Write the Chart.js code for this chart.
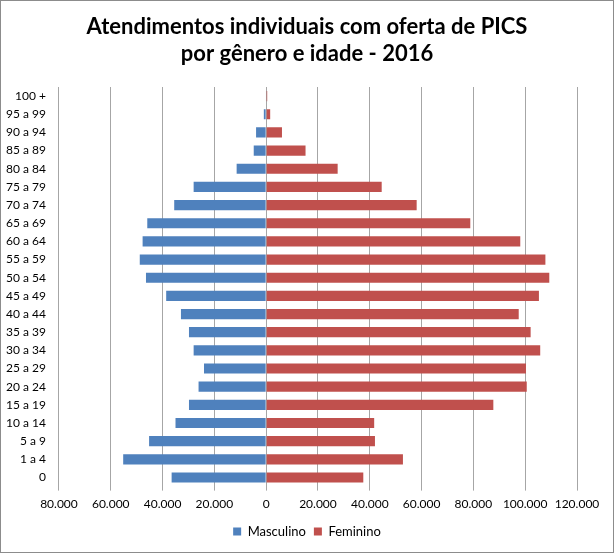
<!DOCTYPE html>
<html>
<head>
<meta charset="utf-8">
<script src="https://cdn.jsdelivr.net/npm/chart.js@4.4.0/dist/chart.umd.min.js"></script>
<style>
  body { margin: 0; background: #fff; }
  .box { width: 612px; height: 551px; border: 1px solid #8c8c8c; position: relative; }
  canvas { display: block; }
</style>
</head>
<body>
<div class="box"><canvas class="piramide" width="612" height="551"></canvas></div>
<script>
var faixas = ['0', '1 a 4', '5 a 9', '10 a 14', '15 a 19', '20 a 24', '25 a 29', '30 a 34', '35 a 39', '40 a 44', '45 a 49',
              '50 a 54', '55 a 59', '60 a 64', '65 a 69', '70 a 74', '75 a 79', '80 a 84', '85 a 89', '90 a 94', '95 a 99', '100 +'];
var masculino = [36500, 55200, 45200, 35000, 29800, 26100, 24000, 28000, 29800, 32900, 38600,
                 46400, 48800, 47700, 45900, 35500, 28000, 11400, 4800, 3900, 900, 200];
var feminino = [37500, 52800, 42000, 41700, 87700, 100600, 100300, 105800, 102100, 97500, 105300,
                109300, 107800, 98100, 78800, 58100, 44600, 27600, 15200, 6100, 1550, 400];
var ticksX = [-80000, -60000, -40000, -20000, 0, 20000, 40000, 60000, 80000, 100000, 120000];

function milhar(v)
{
  return String(Math.abs(v)).replace(/\B(?=(\d{3})+(?!\d))/g, '.');
}

var font = 'Lato, "Open Sans", sans-serif';

var chart = new Chart(document.querySelector('.piramide'), {
  type: 'bar',
  data: {
    labels: faixas,
    datasets: [{
      label: 'Masculino',
      data: masculino.map(function(v) { return -v; }),
      backgroundColor: '#4f81bd',
      barPercentage: 0.56,
      categoryPercentage: 1
    }, {
      label: 'Feminino',
      data: feminino,
      backgroundColor: '#c0504d',
      barPercentage: 0.56,
      categoryPercentage: 1
    }]
  },
  options: {
    indexAxis: 'y',
    responsive: false,
    animation: false,
    layout: { padding: { left: 0, right: 0, top: 8, bottom: 4 } },
    scales: {
      x: {
        stacked: true,
        min: -80000,
        max: 120000,
        afterBuildTicks: function(axis) {
          axis.ticks = ticksX.map(function(v) { return { value: v }; });
        },
        // keep room on the right without pushing the title off centre
        afterFit: function(axis) { axis.paddingRight = 36; },
        grid: { color: '#a6a6a6', drawTicks: true, tickLength: 4 },
        border: { display: false },
        ticks: {
          color: '#000',
          font: { family: font, size: 12 },
          padding: 6,
          maxRotation: 0,
          callback: function(v) { return milhar(v); }
        }
      },
      y: {
        stacked: true,
        reverse: true,
        grid: { display: false },
        border: { display: false },
        ticks: { color: '#000', font: { family: font, size: 12 }, padding: 5 }
      }
    },
    plugins: {
      title: {
        display: true,
        text: ['Atendimentos individuais com oferta de PICS', 'por gênero e idade - 2016'],
        color: '#000',
        font: { family: font, size: 22, weight: 'bold', lineHeight: 1.25 },
        padding: { top: 4, bottom: 19 }
      },
      legend: {
        position: 'bottom',
        labels: {
          color: '#000',
          font: { family: font, size: 13 },
          boxWidth: 8,
          boxHeight: 8,
          padding: 8
        }
      },
      tooltip: { enabled: false }
    }
  }
});
</script>
</body>
</html>
